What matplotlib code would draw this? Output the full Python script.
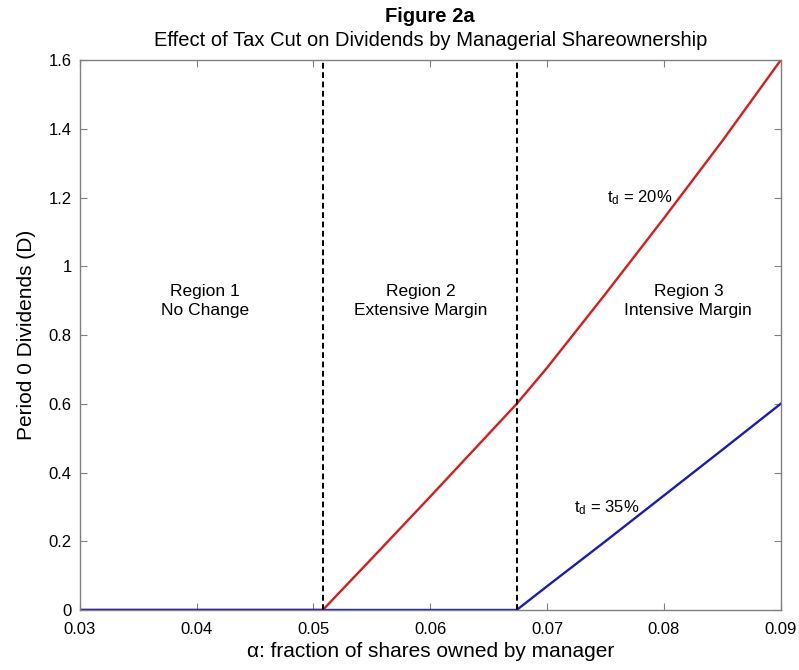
import matplotlib
matplotlib.use('Agg')
import matplotlib.pyplot as plt

plt.rcParams['font.family'] = ['Liberation Sans', 'DejaVu Sans']
plt.rcParams['mathtext.fontset'] = 'custom'
plt.rcParams['mathtext.rm'] = 'Liberation Sans'
plt.rcParams['mathtext.it'] = 'Liberation Sans'

# data
alpha_red = [0.03, 0.0508, 0.055, 0.06, 0.0674, 0.07, 0.075, 0.08, 0.085, 0.09]
div_red = [0.0, 0.0, 0.15, 0.33, 0.6, 0.705, 0.92, 1.14, 1.365, 1.6]
alpha_blue = [0.03, 0.0674, 0.07, 0.075, 0.08, 0.085, 0.09]
div_blue = [0.0, 0.0, 0.069, 0.2, 0.333, 0.466, 0.6]
cutoffs = [0.0508, 0.0674]
region_x = [0.0407, 0.0592, 0.0821]
region_labels = ['Region 1\nNo Change', 'Region 2\nExtensive Margin', 'Region 3\nIntensive Margin']
xticks = [0.03, 0.04, 0.05, 0.06, 0.07, 0.08, 0.09]
yticks = [0, 0.2, 0.4, 0.6, 0.8, 1, 1.2, 1.4, 1.6]

fig = plt.figure(figsize=(7.99, 6.70), dpi=100)
ax = fig.add_axes([0.100, 0.0896, 0.877, 0.8204])

ax.plot(alpha_red, div_red, color='#d81c1c', lw=1.7)
ax.plot(alpha_blue, div_blue, color='#1c1cb4', lw=1.7)
for c in cutoffs:
    ax.plot([c, c], [0, 1.6], color='black', ls=(0, (3, 1.8)), lw=1.4)

for x, lab in zip(region_x, region_labels):
    ax.text(x, 0.9, lab, ha='center', va='center', fontsize=12.5, linespacing=1.35)

ax.text(0.0751, 1.2, r'$\mathregular{t_d}$ = 20%', ha='left', va='center', fontsize=12)
ax.text(0.0723, 0.297, r'$\mathregular{t_d}$ = 35%', ha='left', va='center', fontsize=12)

ax.set_xlim(0.03, 0.09)
ax.set_ylim(0, 1.6)
ax.set_xticks(xticks)
ax.set_yticks(yticks)
ax.set_xticklabels(['0.03', '0.04', '0.05', '0.06', '0.07', '0.08', '0.09'])
ax.set_yticklabels(['0', '0.2', '0.4', '0.6', '0.8', '1', '1.2', '1.4', '1.6'])
ax.tick_params(direction='in', top=True, right=True, length=5, width=0.8,
               color='#808080', labelsize=12)
ax.tick_params(axis='x', pad=9)
ax.tick_params(axis='y', pad=6)
for s in ax.spines.values():
    s.set_color('#808080')
    s.set_linewidth(1.0)

ax.set_xlabel('α: fraction of shares owned by manager', fontsize=15, labelpad=3)
ax.set_ylabel('Period 0 Dividends (D)', fontsize=15, labelpad=9)

fig.text(0.5 * (0.100 + 0.977), 0.976, 'Figure 2a', ha='center', va='center',
         fontsize=14.5, fontweight='bold')
fig.text(0.5 * (0.100 + 0.977), 0.940, 'Effect of Tax Cut on Dividends by Managerial Shareownership',
         ha='center', va='center', fontsize=14.5)

fig.savefig('out.png', dpi=100)
